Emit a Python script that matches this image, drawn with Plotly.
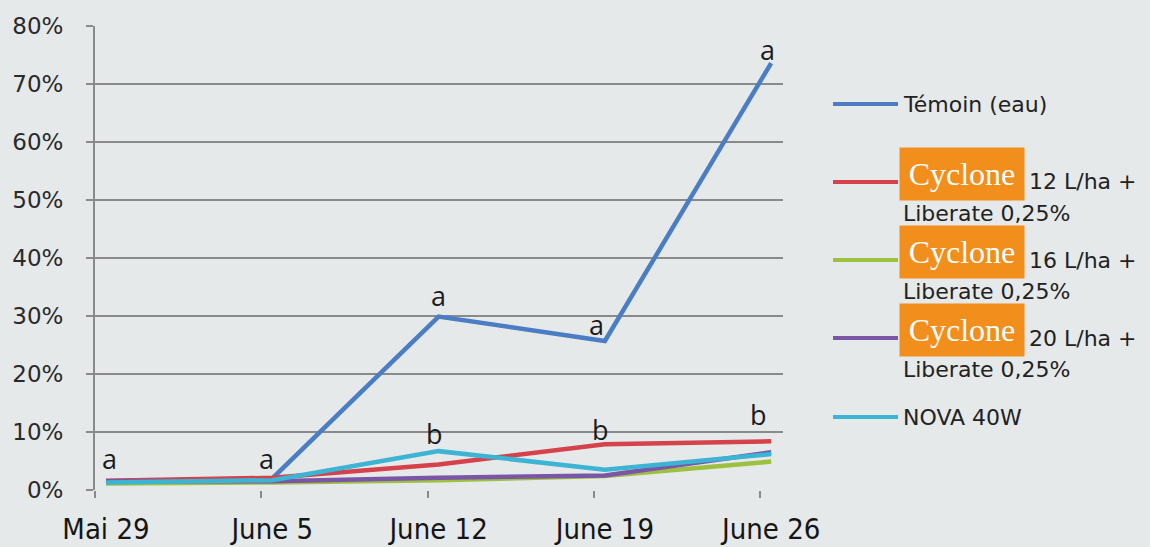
import plotly.graph_objects as go

# ---------------- data ----------------
categories = ["Mai 29", "June 5", "June 12", "June 19", "June 26"]
temoin = [0.015, 0.020, 0.299, 0.257, 0.736]
cyclone12 = [0.016, 0.021, 0.044, 0.079, 0.084]
cyclone16 = [0.011, 0.013, 0.017, 0.024, 0.049]
cyclone20 = [0.015, 0.015, 0.021, 0.025, 0.065]
nova40w = [0.013, 0.017, 0.067, 0.035, 0.062]
letters_temoin = ["a", "a", "a", "a", "a"]
letters_low = ["", "", "b", "b", "b"]
y_ticks = [0.0, 0.1, 0.2, 0.3, 0.4, 0.5, 0.6, 0.7, 0.8]

# ---------------- styles ----------------
BG = "#E6E9EA"
GRID = "#8A8A8A"
series = [
    ("Témoin (eau)", temoin, "#4A7DC4"),
    ("Cyclone 12 L/ha + Liberate 0,25%", cyclone12, "#D5424C"),
    ("Cyclone 16 L/ha + Liberate 0,25%", cyclone16, "#9DC03F"),
    ("Cyclone 20 L/ha + Liberate 0,25%", cyclone20, "#7B56A6"),
    ("NOVA 40W", nova40w, "#3CB4D3"),
]

W, H = 1150, 547
L, R, T, B = 95, 783, 26, 490
tick_offset = 0.066
unit = 166.3
x_min = -tick_offset
x_max = x_min + (R - L) / unit


def px(x):
    return (x - L) / (R - L)


def py(y):
    return (B - y) / (B - T)


fig = go.Figure()
xs = list(range(len(categories)))
for name, vals, col in series:
    fig.add_trace(go.Scatter(x=xs, y=vals, mode="lines", name=name,
                             line=dict(color=col, width=4.5),
                             showlegend=False, hoverinfo="skip"))

annotations = []
letter_font = dict(family="Open Sans, DejaVu Sans", size=27, color="#1A1A1A")
shift_a = [(4, 23), (-6, 20), (0, 21), (-8, 16), (-4, 14)]
shift_b = [(0, 0), (0, 0), (-4, 31), (-4, 15), (-13, 27)]
for i, lt in enumerate(letters_temoin):
    if lt:
        annotations.append(dict(x=xs[i], y=temoin[i], xref="x", yref="y", text=lt,
                                showarrow=False, font=letter_font,
                                xshift=shift_a[i][0], yshift=shift_a[i][1]))
for i, lt in enumerate(letters_low):
    if lt:
        annotations.append(dict(x=xs[i], y=cyclone12[i], xref="x", yref="y", text=lt,
                                showarrow=False, font=letter_font,
                                xshift=shift_b[i][0], yshift=shift_b[i][1]))

# ---------------- custom legend ----------------
leg_font = dict(family="DejaVu Sans", size=22, color="#222222")
shapes = []
legend_rows = [
    (104, None, "Témoin (eau)", None),
    (182, 174, "12 L/ha +", 213),
    (260, 252, "16 L/ha +", 291),
    (338, 330, "20 L/ha +", 369),
    (417, None, "NOVA 40W", None),
]
for (ly, box_y, txt, lib_y), (_, _, col) in zip(legend_rows, series):
    shapes.append(dict(type="line", xref="paper", yref="paper",
                       x0=px(833), x1=px(898), y0=py(ly), y1=py(ly),
                       line=dict(color=col, width=4)))
    if box_y is None:
        annotations.append(dict(x=px(901), y=py(ly), xref="paper", yref="paper",
                                text=txt, showarrow=False, xanchor="left",
                                yanchor="middle", font=leg_font))
    else:
        annotations.append(dict(x=px(962), y=py(box_y), xref="paper", yref="paper",
                                text="Cyclone", showarrow=False, xanchor="center",
                                yanchor="middle", width=124, height=52,
                                bgcolor="#F28E1C", borderpad=0,
                                font=dict(family="Liberation Serif, DejaVu Serif",
                                          size=32, color="#FFFFFF")))
        annotations.append(dict(x=px(1027), y=py(ly), xref="paper", yref="paper",
                                text=txt, showarrow=False, xanchor="left",
                                yanchor="middle", font=leg_font))
        annotations.append(dict(x=px(901), y=py(lib_y), xref="paper", yref="paper",
                                text="Liberate 0,25%", showarrow=False, xanchor="left",
                                yanchor="middle", font=leg_font))

fig.update_layout(
    width=W, height=H,
    margin=dict(l=L, r=W - R, t=T, b=H - B, autoexpand=False),
    paper_bgcolor=BG, plot_bgcolor=BG,
    showlegend=False,
    annotations=annotations,
    shapes=shapes,
    xaxis=dict(range=[x_min, x_max], tickmode="array", tickvals=xs,
               ticktext=categories, ticks="", showgrid=False, zeroline=False,
               showline=False, automargin=False,
               tickfont=dict(family="Liberation Sans Narrow, DejaVu Sans Condensed",
                             size=29, color="#151515"),
               ticklabelstandoff=19,
               minor=dict(tickmode="array",
                          tickvals=[v - tick_offset for v in xs],
                          ticks="outside", ticklen=7, tickwidth=2,
                          tickcolor=GRID, showgrid=False)),
    yaxis=dict(range=[0, 0.8], tickmode="array", tickvals=y_ticks,
               tickformat=".0%", showgrid=True, gridcolor=GRID, gridwidth=2,
               zeroline=False, showline=True, linecolor=GRID, linewidth=2,
               ticks="outside", ticklen=7, tickwidth=2, tickcolor=GRID,
               ticklabelstandoff=18, automargin=False,
               tickfont=dict(family="DejaVu Sans", size=23, color="#2A2A2A")),
)

fig.write_html(
    "out.html",
    config={"displayModeBar": False},
    post_script="document.body.style.margin='0';"
                "document.body.style.background='" + BG + "';",
)
